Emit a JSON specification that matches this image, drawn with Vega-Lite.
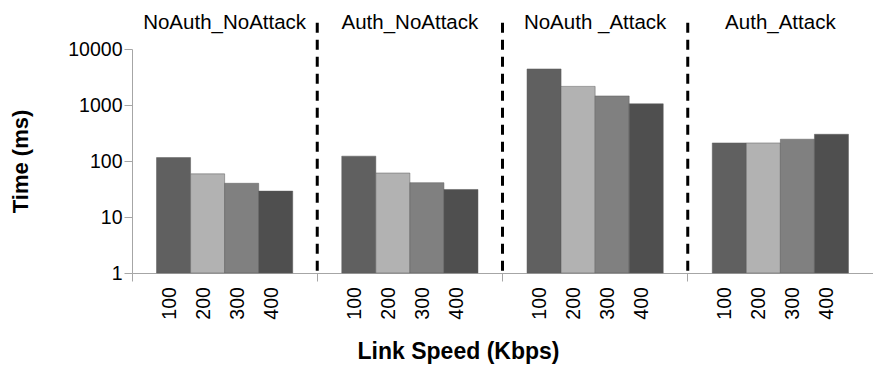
{
  "$schema": "https://vega.github.io/schema/vega-lite/v6.json",
  "autosize": "none",
  "width": 741,
  "height": 224,
  "padding": {"left": 132, "top": 49, "right": 0, "bottom": 96},
  "background": "white",
  "config": {
    "font": "Liberation Sans",
    "view": {"stroke": null},
    "axis": {"labelColor": "black", "titleColor": "black", "domainColor": "#a6a6a6", "tickColor": "#a6a6a6", "grid": false}
  },
  "datasets": {
    "times": [
      {"group": "NoAuth_NoAttack", "speed": "100", "time": 115},
      {"group": "NoAuth_NoAttack", "speed": "200", "time": 59},
      {"group": "NoAuth_NoAttack", "speed": "300", "time": 40},
      {"group": "NoAuth_NoAttack", "speed": "400", "time": 29},
      {"group": "Auth_NoAttack", "speed": "100", "time": 122},
      {"group": "Auth_NoAttack", "speed": "200", "time": 61},
      {"group": "Auth_NoAttack", "speed": "300", "time": 41},
      {"group": "Auth_NoAttack", "speed": "400", "time": 31},
      {"group": "NoAuth _Attack", "speed": "100", "time": 4400},
      {"group": "NoAuth _Attack", "speed": "200", "time": 2150},
      {"group": "NoAuth _Attack", "speed": "300", "time": 1450},
      {"group": "NoAuth _Attack", "speed": "400", "time": 1050},
      {"group": "Auth_Attack", "speed": "100", "time": 210},
      {"group": "Auth_Attack", "speed": "200", "time": 210},
      {"group": "Auth_Attack", "speed": "300", "time": 245},
      {"group": "Auth_Attack", "speed": "400", "time": 300}
    ],
    "groups": [
      {"group": "NoAuth_NoAttack"},
      {"group": "Auth_NoAttack"},
      {"group": "NoAuth _Attack"},
      {"group": "Auth_Attack"}
    ]
  },
  "layer": [
    {
      "data": {"name": "times"},
      "mark": {"type": "bar", "stroke": "#5a5a5a", "strokeWidth": 0.5},
      "encoding": {
        "x": {
          "field": "group", "type": "nominal", "sort": null,
          "scale": {"domain": ["NoAuth_NoAttack", "Auth_NoAttack", "NoAuth _Attack", "Auth_Attack"], "paddingInner": 0, "paddingOuter": 0},
          "axis": {
            "labels": false, "bandPosition": 0, "tickSize": 8,
            "title": "Link Speed (Kbps)", "titleFontSize": 23, "titleFontWeight": "bold",
            "titleX": 326, "titleY": 85, "titleBaseline": "alphabetic"
          }
        },
        "xOffset": {"field": "speed", "type": "nominal", "scale": {"paddingInner": 0, "paddingOuter": 0.72}},
        "y": {
          "field": "time", "type": "quantitative", "stack": null,
          "scale": {"type": "log", "domain": [1, 10000], "nice": false},
          "axis": {
            "values": [1, 10, 100, 1000, 10000], "format": "d",
            "labelFontSize": 19.5, "tickSize": 8, "labelPadding": 2,
            "title": "Time (ms)", "titleFontSize": 22, "titleFontWeight": "bold", "titlePadding": 35
          }
        },
        "y2": {"datum": 1},
        "color": {
          "field": "speed", "type": "nominal",
          "scale": {"domain": ["100", "200", "300", "400"], "range": ["#606060", "#b2b2b2", "#808080", "#4f4f4f"]},
          "legend": null
        }
      }
    },
    {
      "data": {"name": "times"},
      "mark": {"type": "text", "angle": 270, "align": "right", "baseline": "middle", "fontSize": 19.5, "color": "black", "dy": -4},
      "encoding": {
        "x": {"field": "group", "type": "nominal", "sort": null},
        "xOffset": {"field": "speed", "type": "nominal"},
        "y": {"datum": 0.56},
        "text": {"field": "speed"}
      }
    },
    {
      "data": {"name": "groups"},
      "mark": {"type": "text", "align": "center", "baseline": "alphabetic", "fontSize": 20.5, "color": "black"},
      "encoding": {
        "x": {"field": "group", "type": "nominal", "sort": null},
        "y": {"datum": 23000},
        "text": {"field": "group"}
      }
    },
    {
      "data": {"name": "groups"},
      "transform": [{"filter": "datum.group !== 'NoAuth_NoAttack'"}],
      "mark": {"type": "rule", "color": "black", "strokeWidth": 3, "strokeDash": [10, 7]},
      "encoding": {
        "x": {"field": "group", "type": "nominal", "sort": null, "bandPosition": 0},
        "y": {"datum": 29400},
        "y2": {"datum": 1}
      }
    }
  ]
}
